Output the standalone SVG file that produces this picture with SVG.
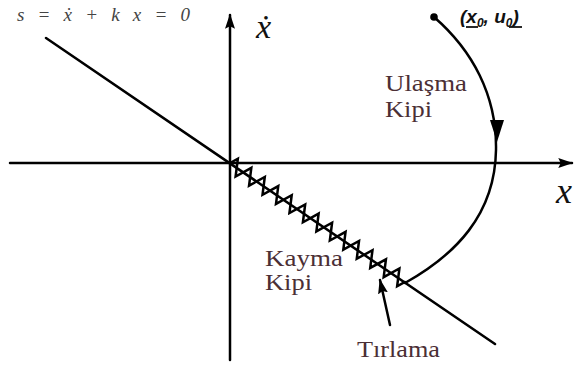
<svg xmlns="http://www.w3.org/2000/svg" width="576" height="367" viewBox="0 0 576 367">
<style>
.ln{stroke:#000;stroke-width:2.5;fill:none;stroke-linecap:round}
.lbl{font-family:"Liberation Serif",serif;font-size:23px;fill:#4b2f35}
.math{font-family:"Liberation Serif",serif;font-style:italic;fill:#111}
</style>
<defs>
<marker id="ah" viewBox="0 0 12 10" refX="11" refY="5" markerWidth="6" markerHeight="5" orient="auto" markerUnits="strokeWidth">
<path d="M0,1 L12,5 L0,9 L2,5 z" fill="#000"/>
</marker>
</defs>
<rect width="576" height="367" fill="#fff"/>
<g id="equation">
<text class="math" x="17" y="21" font-size="19" style="fill:#444" textLength="173" lengthAdjust="spacing">s = ẋ + k x = 0</text>
</g>
<g id="connectors">
<line id="x-axis" class="ln" x1="10" y1="163" x2="572" y2="163" marker-end="url(#ah)"/>
<line id="y-axis" class="ln" x1="230" y1="360" x2="230" y2="15" marker-end="url(#ah)"/>
<line id="sliding-line" class="ln" x1="46" y1="38" x2="495" y2="344"/>
<path id="chattering" class="ln" stroke-width="2.3" stroke-linejoin="miter" transform="translate(230,163) rotate(34.2)" d="M0,0 L4.07,-8 L12.21,8 L20.35,-8 L28.48,8 L36.62,-8 L44.76,8 L52.9,-8 L61.04,8 L69.17,-8 L77.31,8 L85.45,-8 L93.59,8 L101.73,-8 L109.86,8 L118,-8 L126.14,8 L134.28,-8 L142.42,8 L150.55,-8 L158.69,8 L166.83,-8 L174.97,8 L183.11,-8 L191.24,8 L199.38,-8 L207.52,8 L211.6,0"/>
<path id="reaching" class="ln" d="M434,17 C472,50 497,95 496,150 C495,215 455,255 405,283"/>
<path id="reach-arrow" d="M490,120 L504,120 L497,142 z" fill="#000"/>
<line id="tirlama-arrow" class="ln" stroke-width="2.4" x1="390" y1="325" x2="380" y2="280" marker-end="url(#ah)"/>
</g>
<g id="start-point">
<circle cx="434" cy="17" r="3.8" fill="#000"/>
<text x="460" y="23" font-family="'Liberation Sans',sans-serif" font-weight="bold" font-style="italic" font-size="19" fill="#111">(x<tspan font-size="12" dy="4">0</tspan><tspan dy="-4">, u</tspan><tspan font-size="12" dy="4">0</tspan><tspan dy="-4">)</tspan></text>
<line x1="466" y1="27" x2="478" y2="27" stroke="#111" stroke-width="1.8"/>
<line x1="509" y1="27" x2="522" y2="27" stroke="#111" stroke-width="1.8"/>
</g>
<g id="axis-labels">
<text class="math" x="256" y="38" font-size="34">ẋ</text>
<text class="math" x="556" y="203" font-size="36">x</text>
</g>
<g id="ulasma">
<text class="lbl" x="385" y="91" textLength="82" lengthAdjust="spacingAndGlyphs">Ulaşma</text>
<text class="lbl" x="385" y="117" textLength="47" lengthAdjust="spacingAndGlyphs">Kipi</text>
</g>
<g id="kayma">
<text class="lbl" x="265" y="266" textLength="78" lengthAdjust="spacingAndGlyphs">Kayma</text>
<text class="lbl" x="265" y="290" textLength="47" lengthAdjust="spacingAndGlyphs">Kipi</text>
</g>
<g id="tirlama">
<text class="lbl" x="357" y="357" textLength="83" lengthAdjust="spacingAndGlyphs">Tırlama</text>
</g>
</svg>
